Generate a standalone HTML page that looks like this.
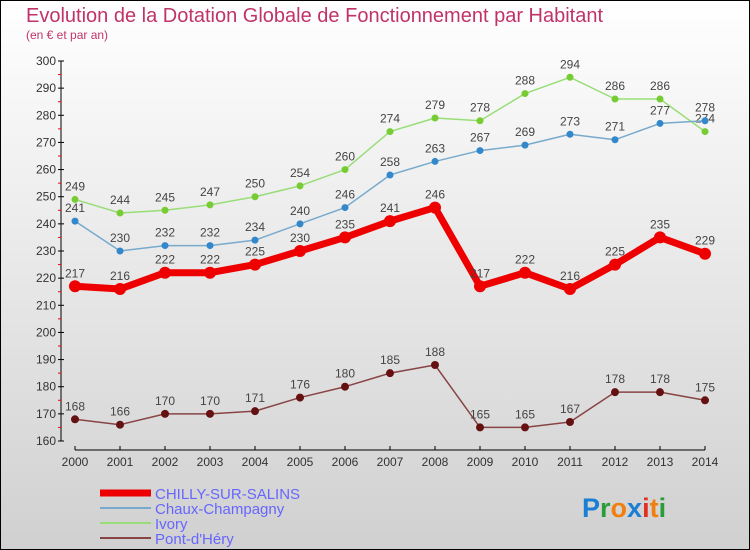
<!DOCTYPE html>
<html><head><meta charset="utf-8"><style>
body{margin:0}
svg{display:block;font-family:"Liberation Sans",sans-serif}
</style></head><body>
<svg width="750" height="550" viewBox="0 0 750 550">
<defs><linearGradient id="bg" x1="0" y1="0" x2="0" y2="1"><stop offset="0" stop-color="#ffffff"/><stop offset="1" stop-color="#d0d0d0"/></linearGradient></defs>
<rect x="0.5" y="0.5" width="749" height="549" fill="url(#bg)" stroke="#000"/>
<text x="26" y="22" font-size="20" fill="#c0336a">Evolution de la Dotation Globale de Fonctionnement par Habitant</text>
<text x="26" y="39" font-size="12" fill="#c0336a">(en € et par an)</text>
<g id="axes"></g>
<g id="series"></g>
<g id="legend"></g>
<text x="582" y="517" font-size="27" font-weight="bold"><tspan fill="#1a7fd4">P</tspan><tspan fill="#2a9d3a">r</tspan><tspan fill="#f07f10">o</tspan><tspan fill="#1a7fd4">x</tspan><tspan fill="#e03020">i</tspan><tspan fill="#f07f10">t</tspan><tspan fill="#2a9d3a">i</tspan></text>
</svg>
<script>
const years=[2000,2001,2002,2003,2004,2005,2006,2007,2008,2009,2010,2011,2012,2013,2014];
const chilly=[217,216,222,222,225,230,235,241,246,217,222,216,225,235,229];
const chaux=[241,230,232,232,234,240,246,258,263,267,269,273,271,277,278];
const ivory=[249,244,245,247,250,254,260,274,279,278,288,294,286,286,274];
const pont=[168,166,170,170,171,176,180,185,188,165,165,167,178,178,175];
const yTicks=[160,170,180,190,200,210,220,230,240,250,260,270,280,290,300];
const NS="http://www.w3.org/2000/svg";
const X=i=>75+i*45, Y=v=>441-(v-160)*380/140;
function mk(t,a,p){const e=document.createElementNS(NS,t);for(const k in a)e.setAttribute(k,a[k]);p.appendChild(e);return e;}
const ax=document.getElementById('axes');
let l=mk('line',{x1:61,y1:Y(300),x2:61,y2:Y(160),stroke:'#000'},ax);


l=mk('line',{x1:X(0),y1:450,x2:X(14),y2:450,stroke:'#000'},ax);


yTicks.forEach(v=>{
  mk('line',{x1:58,y1:Y(v),x2:64,y2:Y(v),stroke:'#000'},ax);
  if(v<300)mk('line',{x1:58,y1:Y(v+5),x2:61,y2:Y(v+5),stroke:'#f00'},ax);
  const t=mk('text',{x:56,y:Y(v)+4,'font-size':12,'text-anchor':'end',fill:'#333'},ax);t.textContent=v;
  
  
});
years.forEach((y,i)=>{
  mk('line',{x1:X(i),y1:446,x2:X(i),y2:450,stroke:'#000'},ax);
  const t=mk('text',{x:X(i),y:466,'font-size':12,'text-anchor':'middle',fill:'#333'},ax);t.textContent=y;
  
  
});
const sg=document.getElementById('series');
function series(vals,color,w,r,dot,name){
  const g=mk('g',{},sg);
  
  
  mk('polyline',{points:vals.map((v,i)=>X(i)+','+Y(v)).join(' '),fill:'none',stroke:color,'stroke-width':w,'stroke-linejoin':'round'},g);
  vals.forEach((v,i)=>{
    const c=mk('circle',{cx:X(i),cy:Y(v),r:r,fill:dot},g);
    
    
    const t=mk('text',{x:X(i),y:Y(v)-9,'font-size':12,'text-anchor':'middle',fill:'#444'},g);t.textContent=v;
    
    
  });
}
series(ivory,'#99dd77',1.5,3.5,'#77cc33','series-ivory');
series(chaux,'#77aacc',1.5,3.5,'#3388cc','series-chaux-champagny');
series(pont,'#884444',1.5,4,'#661111','series-pont-d-hery');
series(chilly,'#ee0000',7,6,'#ee0000','series-chilly-sur-salins');
const lg=document.getElementById('legend');
[['CHILLY-SUR-SALINS','#ee0000',7],['Chaux-Champagny','#77aacc',2],['Ivory','#99dd77',2],['Pont-d\'Héry','#884444',2]].forEach((d,i)=>{
  const g=mk('g',{},lg);
  
  
  const y=493+i*15;
  mk('line',{x1:100,y1:y,x2:151,y2:y,stroke:d[1],'stroke-width':d[2]},g);
  const t=mk('text',{x:155,y:y+6,'font-size':15,fill:'#6666ff'},g);t.textContent=d[0];
});
</script>
</body></html>
